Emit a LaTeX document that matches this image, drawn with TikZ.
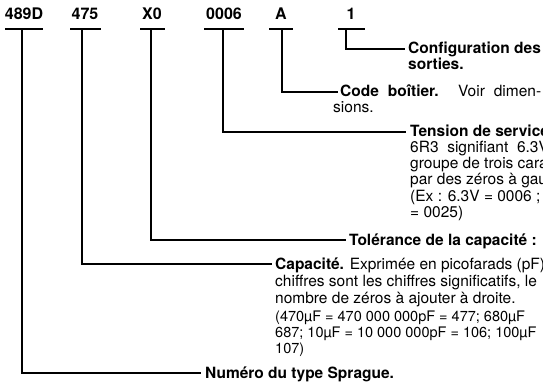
\documentclass[tikz,border=0pt]{standalone}
\usepackage{fontspec}
\setmainfont{TeX Gyre Heros}
\begin{document}
\begin{tikzpicture}[x=1pt,y=-1pt,
  code/.style={font=\bfseries\fontsize{16}{16}\selectfont, inner sep=0pt, anchor=base},
  txt/.style={font=\fontsize{15.5}{17}\selectfont, inner sep=0pt, anchor=base west},
  small/.style={font=\fontsize{14.5}{16}\selectfont, inner sep=0pt, anchor=base west},
  bar/.style={line width=2pt},
  lead/.style={line width=1.5pt},
]
\useasboundingbox (0,0) rectangle (543,382);
\clip (0,0) rectangle (543,382);
% code labels
\node[code] (c1) at (24,20) {489D};
\node[code] (c2) at (85,20) {475};
\node[code] (c3) at (152,20) {X0};
\node[code] (c4) at (224,20) {0006};
\node[code] (c5) at (281,20) {A};
\node[code] (c6) at (351,20) {1};
% bars
\draw[bar] (5,29) -- (43,29);
\draw[bar] (70,29) -- (101,29);
\draw[bar] (140,29) -- (165,29);
\draw[bar] (204,29) -- (244,29);
\draw[bar] (269,29) -- (293,29);
\draw[bar] (338,29) -- (365,29);
\coordinate (s1) at (22,29);
\coordinate (s2) at (82,29);
\coordinate (s3) at (151,29);
\coordinate (s4) at (223,29);
\coordinate (s5) at (282,29);
\coordinate (s6) at (346,29);
% texts
\node[txt] (t6) at (408,54) {\textbf{Configuration des}};
\node[txt] (t6b) at (408,70) {\textbf{sorties.}};
\node[txt] (t5) at (340,97) {\makebox[201pt][s]{\textbf{Code boîtier.} Voir dimen-}};
\node[txt] (t5b) at (333,113) {sions.};
\node[txt] (t4) at (410,137) {\textbf{Tension de service}};
\node[txt] (t4b) at (410,153) {6R3\ \ signifiant\ \ 6.3V};
\node[txt] (t4c) at (410,169) {groupe de trois cara};
\node[txt] (t4d) at (410,185) {par des zéros à gau};
\node[txt] (t4e) at (410,201) {(Ex : 6.3V = 0006 ;};
\node[txt] (t4f) at (410,217) {= 0025)};
\node[txt] (t3) at (349,245) {\textbf{Tolérance de la capacité :}};
\node[txt] (t2) at (275,269) {\textbf{Capacité.} Exprimée en picofarads (pF)};
\node[txt] (t2b) at (275,286) {chiffres sont les chiffres significatifs, le};
\node[txt] (t2c) at (275,303) {nombre de zéros à ajouter à droite.};
\node[small] (t2d) at (275,321) {(470µF = 470 000 000pF = 477; 680µF};
\node[small] (t2e) at (275,337) {687; 10µF = 10 000 000pF = 106; 100µF};
\node[small] (t2f) at (275,353) {107)};
\node[txt] (t1) at (205,378) {\textbf{Numéro du type Sprague.}};
% leaders
\draw[lead] (s6) |- ([xshift=-3pt,yshift=5pt]t6.base west);
\draw[lead] (s5) |- ([xshift=-2pt,yshift=5pt]t5.base west);
\draw[lead] (s4) |- ([xshift=-4pt,yshift=5pt]t4.base west);
\draw[lead] (s3) |- ([xshift=-3pt,yshift=5pt]t3.base west);
\draw[lead] (s2) |- ([xshift=-3pt,yshift=5pt]t2.base west);
\draw[lead] (s1) |- ([xshift=-4pt,yshift=5pt]t1.base west);
\end{tikzpicture}
\end{document}
